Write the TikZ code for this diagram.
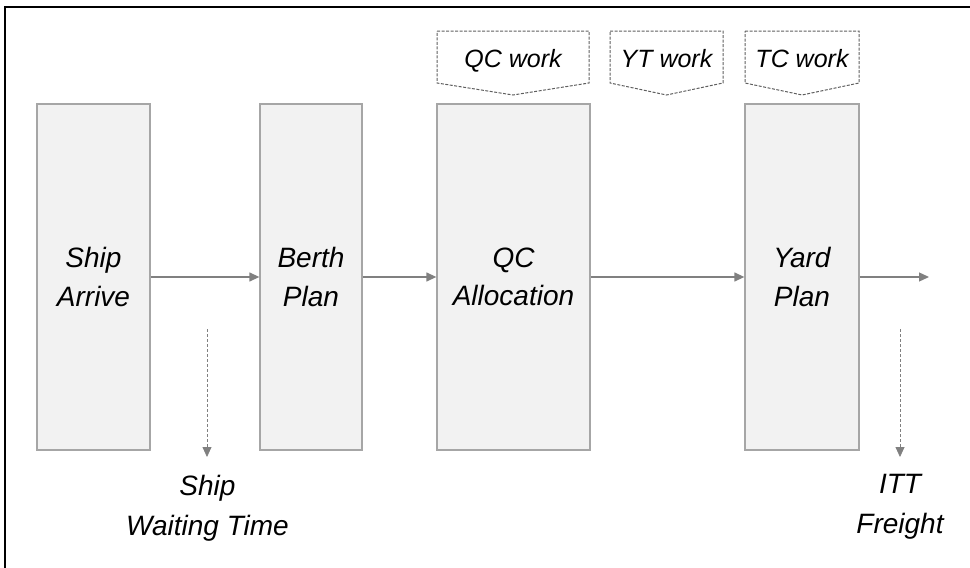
\documentclass[tikz,border=0pt]{standalone}
\usepackage{fontspec}
\setmainfont{Liberation Sans}
\usetikzlibrary{arrows.meta}
\definecolor{boxfill}{HTML}{F2F2F2}
\definecolor{boxline}{HTML}{A6A6A6}
\definecolor{arrgray}{HTML}{808080}
\definecolor{dashgray}{HTML}{5F5F5F}
\begin{document}
\begin{tikzpicture}[x=1pt,y=-1pt,
  procbox/.style={draw=boxline,fill=boxfill,line width=1.3pt,inner sep=0pt,
    align=center,font=\fontsize{28}{38.5}\selectfont\itshape},
  flow/.style={draw=arrgray,line width=1.3pt,-{Triangle[length=10pt,width=9pt]}},
  dflow/.style={draw=arrgray,line width=0.8pt,dash pattern=on 3pt off 2pt,
    -{Triangle[length=10pt,width=9pt]}},
  worktag/.style={draw=dashgray,line width=1pt,dash pattern=on 3pt off 1.5pt},
  worklbl/.style={font=\fontsize{25}{30}\selectfont\itshape,inner sep=0pt,anchor=base},
  outlbl/.style={align=center,font=\fontsize{28}{40}\selectfont\itshape,inner sep=0pt}]
\useasboundingbox (0,0) rectangle (970,568);
% frame
\draw[line width=2pt] (5,568) -- (5,7) -- (970,7);
% process boxes
\node[procbox,minimum width=113pt,minimum height=346pt] (ship) at (93.5,277) {Ship\\Arrive};
\node[procbox,minimum width=102pt,minimum height=346pt] (berth) at (311,277) {Berth\\Plan};
\node[procbox,minimum width=153pt,minimum height=346pt] (qc) at (513.5,277) {QC\\Allocation};
\node[procbox,minimum width=114pt,minimum height=346pt] (yard) at (802,277) {Yard\\Plan};
\coordinate (out) at (929,277);
% main flow
\draw[flow] (ship) -- (berth);
\draw[flow] (berth) -- (qc);
\draw[flow] (qc) -- (yard);
\draw[flow] (yard.east) -- (out);
% work tags
\draw[worktag] (437,31) -- (589,31) -- (589,83) -- (513,95) -- (437,83) -- cycle;
\node[worklbl] (qcw) at (513,67) {QC work};
\draw[worktag] (610,31) -- (723,31) -- (723,83) -- (666.5,95) -- (610,83) -- cycle;
\node[worklbl] (ytw) at (666.5,67) {YT work};
\draw[worktag] (745,31) -- (859,31) -- (859,83) -- (802,95) -- (745,83) -- cycle;
\node[worklbl] (tcw) at (802,67) {TC work};
% outputs
\node[outlbl] (wait) at (207.5,508) {Ship\\Waiting Time};
\node[outlbl] (itt) at (900,507) {ITT\\Freight};
\coordinate (w0) at (207,329);
\coordinate (i0) at (900,329);
\draw[dflow] (w0) -- (w0 |- 0,457);
\draw[dflow] (i0) -- (i0 |- 0,457);
\end{tikzpicture}
\end{document}
